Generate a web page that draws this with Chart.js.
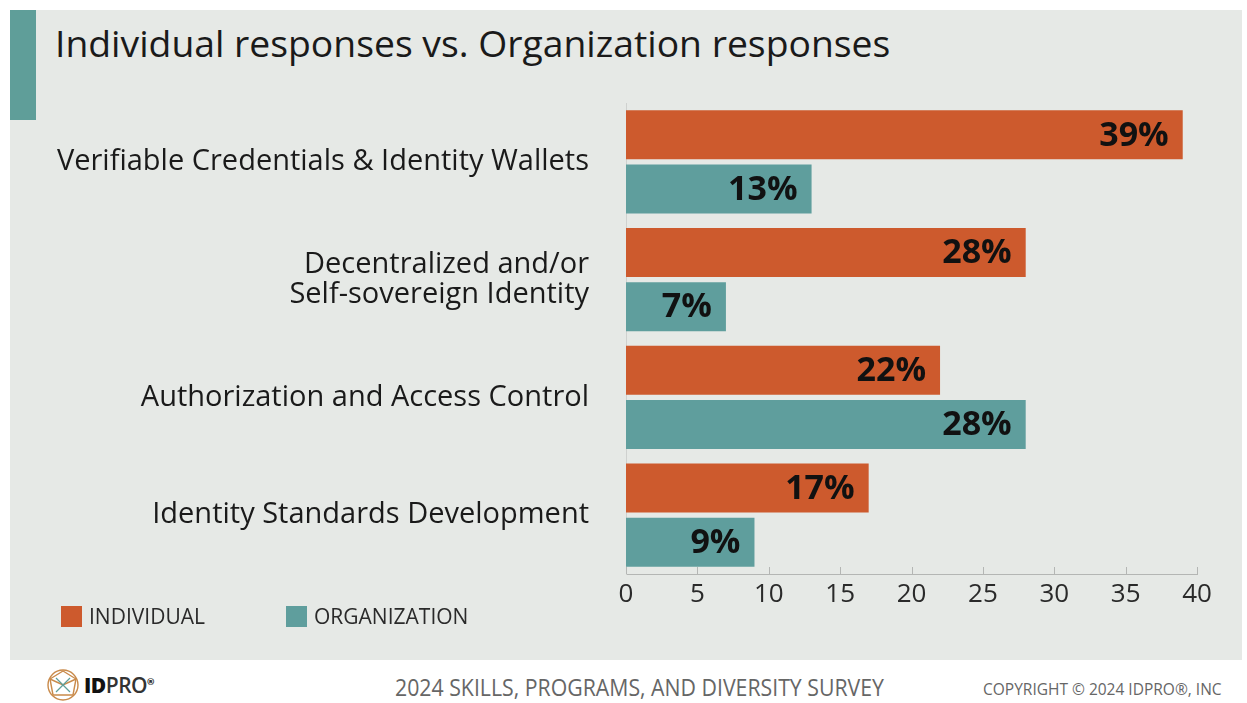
<!DOCTYPE html>
<html>
<head>
<meta charset="utf-8">
<title>Individual responses vs. Organization responses</title>
<script src="https://cdn.jsdelivr.net/npm/chart.js@4.4.1/dist/chart.umd.min.js"></script>
<style>
  body { margin:0; width:1247px; height:703px; background:#fff; position:relative; overflow:hidden;
         font-family:'Open Sans', sans-serif; color:#1a1a1a; }
  .panel  { position:absolute; left:10px; top:10px; width:1232px; height:650px; background:#e6e9e6; }
  .accent { position:absolute; left:10px; top:10px; width:26px; height:110px; background:#5f9e99; }
  h1 { position:absolute; left:55px; top:24px; margin:0; font-weight:400; font-size:37.3px; line-height:1; color:#1a1a1a; }
  #chartBox { position:absolute; left:0; top:0; }
  .legend { position:absolute; top:606px; font-size:21px; line-height:21px; color:#2a2a2a; }
  .legend i { display:inline-block; width:21px; height:21px; vertical-align:top; margin-right:7px; }
  .logo { position:absolute; left:45px; top:668px; height:34px; display:flex; align-items:center; }
  .logo b { font-size:21px; font-weight:800; color:#111; margin-left:3px; letter-spacing:-0.5px; }
  .logo b span { font-weight:600; color:#333; }
  .logo sup { font-size:9px; color:#333; }
  .survey { position:absolute; left:395px; top:676px; font-size:23px; line-height:1; color:#666;
            transform:scaleX(0.925); transform-origin:left; white-space:nowrap; }
  .copy { position:absolute; left:983px; top:682px; font-size:15.5px; line-height:1; color:#666;
          white-space:nowrap; }
</style>
</head>
<body>
<div class="panel"></div>
<div class="accent"></div>
<h1>Individual responses vs. Organization responses</h1>
<div id="chartBox"><canvas id="topicChart" width="1247" height="660"></canvas></div>
<div class="legend" id="legend"></div>
<div class="logo">
  <svg width="36" height="34" viewBox="0 0 36 34">
    <g fill="none" stroke="#c98a4a" stroke-width="1.4">
      <circle cx="18" cy="17" r="15"/>
      <polygon points="18,3 31,11 28,27 8,27 5,11"/>
      <polyline points="5,11 18,17 31,11 M18,3 18,17 8,27 M18,17 28,27"/>
    </g>
    <g stroke="#5f9e99" stroke-width="1.2"><line x1="11" y1="10" x2="25" y2="24"/><line x1="25" y1="10" x2="11" y2="24"/></g>
  </svg>
  <b>ID<span>PRO</span><sup>®</sup></b>
</div>
<div class="survey">2024 SKILLS, PROGRAMS, AND DIVERSITY SURVEY</div>
<div class="copy">COPYRIGHT © 2024 IDPRO®, INC</div>

<script>
'use strict';

/* ───────────────────────────────────────────
   DATA
─────────────────────────────────────────── */
const topics = [
  'Verifiable Credentials & Identity Wallets',
  ['Decentralized and/or', 'Self-sovereign Identity'],
  'Authorization and Access Control',
  'Identity Standards Development'
];
const individual   = [39, 28, 22, 17];
const organization = [13, 7, 28, 9];
const seriesNames  = ['INDIVIDUAL', 'ORGANIZATION'];
const seriesColors = ['#cd5a2d', '#5f9e9d'];
const axisMax  = 40;
const axisStep = 5;

/* ───────────────────────────────────────────
   LEGEND (html, bottom left)
─────────────────────────────────────────── */
const legendX = [61, 286];
document.getElementById('legend').outerHTML = seriesNames.map((name, i) =>
  `<div class="legend" style="left:${legendX[i]}px"><i style="background:${seriesColors[i]}"></i>${name}</div>`
).join('');

/* ───────────────────────────────────────────
   PLUGINS
─────────────────────────────────────────── */
// percent value printed inside the end of each bar
const valueLabels = {
  id: 'valueLabels',
  afterDatasetsDraw(chart) {
    const { ctx } = chart;
    ctx.save();
    ctx.font = 'bold 34px "Open Sans"';
    ctx.fillStyle = '#111';
    ctx.textAlign = 'right';
    ctx.textBaseline = 'middle';
    chart.data.datasets.forEach((ds, di) => {
      chart.getDatasetMeta(di).data.forEach((bar, i) => {
        ctx.fillText(ds.data[i] + '%', bar.x - 14, bar.y + 1);
      });
    });
    ctx.restore();
  }
};

// short tick marks pointing up from the x axis line
const upTicks = {
  id: 'upTicks',
  afterDraw(chart) {
    const { ctx } = chart;
    const sx = chart.scales.x;
    ctx.save();
    ctx.strokeStyle = '#b4b6b4';
    ctx.lineWidth = 1;
    ctx.beginPath();
    sx.ticks.forEach(t => {
      const px = Math.round(sx.getPixelForValue(t.value)) + 0.5;
      ctx.moveTo(px, sx.top);
      ctx.lineTo(px, sx.top - 7);
    });
    ctx.stroke();
    ctx.restore();
  }
};

/* ───────────────────────────────────────────
   CHART
─────────────────────────────────────────── */
new Chart(document.getElementById('topicChart'), {
  type: 'bar',
  data: {
    labels: topics,
    datasets: [individual, organization].map((vals, i) => ({
      label: seriesNames[i],
      data: vals,
      backgroundColor: seriesColors[i],
      barPercentage: 0.907,
      categoryPercentage: 0.918
    }))
  },
  options: {
    indexAxis: 'y',
    responsive: false,
    animation: false,
    devicePixelRatio: 1,
    layout: { padding: { top: 103, right: 50, bottom: 26, left: 0 } },
    plugins: { legend: { display: false }, tooltip: { enabled: false } },
    scales: {
      x: {
        min: 0, max: axisMax,
        grid: { display: false },
        border: { display: true, color: '#b4b6b4', width: 1 },
        ticks: { stepSize: axisStep, color: '#2a2a2a', padding: -3, font: { family: 'Open Sans', size: 26 } },
        afterFit: s => { s.height = 60; }
      },
      y: {
        grid: { display: false },
        border: { display: true, color: '#cfd1cf', width: 1 },
        ticks: { color: '#1a1a1a', padding: 29, font: { family: 'Open Sans', size: 29, lineHeight: 1.03 } },
        afterFit: s => { s.width = 626; }
      }
    }
  },
  plugins: [valueLabels, upTicks]
});
</script>
</body>
</html>
